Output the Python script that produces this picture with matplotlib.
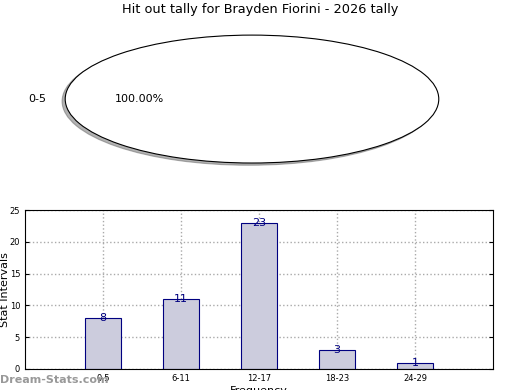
import matplotlib
matplotlib.use("Agg")
import matplotlib.pyplot as plt

# pie data
pie_labels = ["0-5"]
pie_values = [100.0]

# bar data
categories = ["0-5", "6-11", "12-17", "18-23", "24-29"]
counts = [8, 11, 23, 3, 1]

title = "Hit out tally for Brayden Fiorini - 2026 tally"

fig = plt.figure(figsize=(5.2, 3.9), dpi=100)

# --- pie ---
ax1 = fig.add_axes([0.0356, 0.541, 0.898, 0.41])
ax1.pie(pie_values, labels=pie_labels, autopct="%1.2f%%",
        shadow=dict(ox=-0.012, oy=-0.025, shade=0.6),
        colors=["white"], wedgeprops=dict(edgecolor="black", linewidth=0.8),
        textprops=dict(fontsize=8))
ax1.set_aspect("auto")
ax1.set_xlim(-1.25, 1.25)
ax1.set_ylim(-1.25, 1.25)
fig.text(0.5, 0.975, title, ha="center", va="center", fontsize=9.3)

# --- bars ---
ax2 = fig.add_axes([0.048, 0.054, 0.9, 0.4075])
x = list(range(1, len(categories) + 1))
bars = ax2.bar(x, counts, width=0.46, color="#ccccdd", edgecolor="navy", linewidth=0.8, zorder=2)
for xi, c in zip(x, counts):
    ax2.text(xi, c, str(c), ha="center", va="center", color="navy", fontsize=8, zorder=3)
ax2.set_xlim(0, 6)
ax2.set_ylim(0, 25)
ax2.set_xticks(x)
ax2.set_xticklabels(categories)
ax2.set_yticks([0, 5, 10, 15, 20, 25])
ax2.tick_params(labelsize=6, direction="in", right=True, length=3)
ax2.grid(True, linestyle=":", color="#aaaaaa", linewidth=1, zorder=0)
ax2.set_axisbelow(True)
ax2.set_ylabel("Stat Intervals", fontsize=8)
ax2.yaxis.set_label_coords(-0.031, 0.5)
ax2.set_xlabel("Frequency", fontsize=8, labelpad=2)

fig.text(0.0, 0.025, "Dream-Stats.com", ha="left", va="center", fontsize=8,
         color="#999999", fontweight="bold")

fig.savefig("out.png", dpi=100)
